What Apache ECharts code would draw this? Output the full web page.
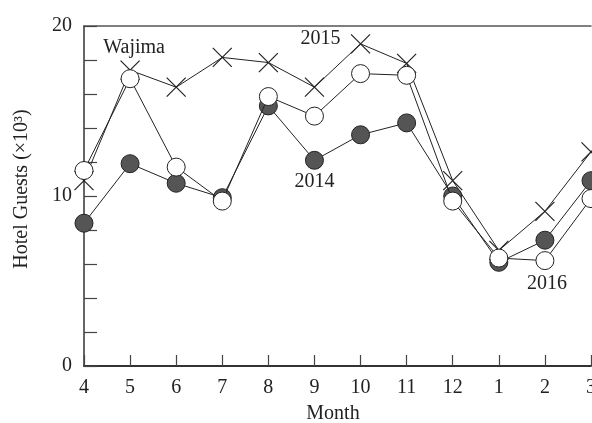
<!DOCTYPE html>
<html><head><meta charset="utf-8">
<script src="https://cdn.jsdelivr.net/npm/echarts@6/dist/echarts.min.js"></script>
<style>html,body{margin:0;padding:0;background:#fff}#c{width:592px;height:423px}</style>
</head><body><div id="c"></div>
<script>
const months = ['4','5','6','7','8','9','10','11','12','1','2','3'];
const y2014 = [8.4, 11.9, 10.75, 9.9, 15.3, 12.1, 13.6, 14.3, 10.0, 6.1, 7.4, 10.9];
const y2015 = [10.9, 17.4, 16.4, 18.15, 17.85, 16.4, 18.95, 17.8, 10.9, 6.8, 9.1, 12.6];
const y2016 = [11.5, 16.9, 11.7, 9.7, 15.85, 14.7, 17.2, 17.1, 9.7, 6.35, 6.2, 9.85];
const yLabels = ['0', '10', '20'];

const FONT = 'Liberation Serif';
const txt = {fontFamily: FONT, fontSize: 20, color: '#222'};
const lbl = (text, pos, dist, extra) => Object.assign({show: true, formatter: text, position: pos, distance: dist}, txt, extra || {});

const d2014 = y2014.map((v, i) => i === 5 ? {value: v, label: lbl('2014', 'bottom', 2)} : v);
const d2015 = y2015.map((v, i) => {
  if (i === 1) return {value: v, label: lbl('Wajima', 'top', 2, {offset: [4, 0]})};
  if (i === 6) return {value: v, label: lbl('2015', 'left', 10, {offset: [0, -5]})};
  return v;
});
const d2016 = y2016.map((v, i) => i === 10 ? {value: v, label: lbl('2016', 'bottom', 4, {offset: [2, 0]})} : v);

const chart = echarts.init(document.getElementById('c'), null, {renderer: 'canvas'});
chart.setOption({
  animation: false,
  grid: {left: 84, right: 1, top: 26, bottom: 57, containLabel: false, outerBoundsMode: 'none'},
  xAxis: [{
    type: 'category', data: months, boundaryGap: false,
    name: 'Month', nameLocation: 'middle', nameGap: 38,
    nameTextStyle: Object.assign({padding: [0, 9, 0, 0]}, txt),
    axisLine: {lineStyle: {color: '#333', width: 2}},
    axisTick: {inside: true, length: 11, lineStyle: {color: '#444', width: 1.2}},
    axisLabel: Object.assign({margin: 12, interval: 0, hideOverlap: false}, txt),
    splitLine: {show: false}
  }, {
    type: 'category', data: months, boundaryGap: false, position: 'top',
    axisLine: {lineStyle: {color: '#555', width: 1.5}},
    axisTick: {show: false}, axisLabel: {show: false}, splitLine: {show: false}
  }],
  yAxis: {
    type: 'value', min: 0, max: 20, interval: 2,
    name: 'Hotel Guests (×10³)', nameLocation: 'middle', nameGap: 52,
    nameTextStyle: Object.assign({padding: [0, 0, 0, 14]}, txt),
    axisLine: {show: true, lineStyle: {color: '#333', width: 1.5}},
    axisTick: {show: true, inside: true, length: 13, lineStyle: {color: '#444', width: 1.2}},
    axisLabel: Object.assign({margin: 12, formatter: v => yLabels.indexOf(String(v)) >= 0 ? String(v) : ''}, txt),
    splitLine: {show: false}
  },
  series: [{
    name: '2015', type: 'line', data: d2015, z: 2,
    symbol: 'path://M0,0L10,10M10,0L0,10', symbolSize: 19, showAllSymbol: true,
    itemStyle: {color: '#222', borderColor: '#222', borderWidth: 1.2},
    lineStyle: {color: '#222', width: 1}
  }, {
    name: '2014', type: 'line', data: d2014, z: 3,
    symbol: 'circle', symbolSize: 18, showAllSymbol: true,
    itemStyle: {color: '#555', borderColor: '#222', borderWidth: 1},
    lineStyle: {color: '#222', width: 1}
  }, {
    name: '2016', type: 'line', data: d2016, z: 4,
    symbol: 'circle', symbolSize: 18, showAllSymbol: true,
    itemStyle: {color: '#fff', borderColor: '#222', borderWidth: 1},
    lineStyle: {color: '#222', width: 1}
  }]
});
</script></body></html>
